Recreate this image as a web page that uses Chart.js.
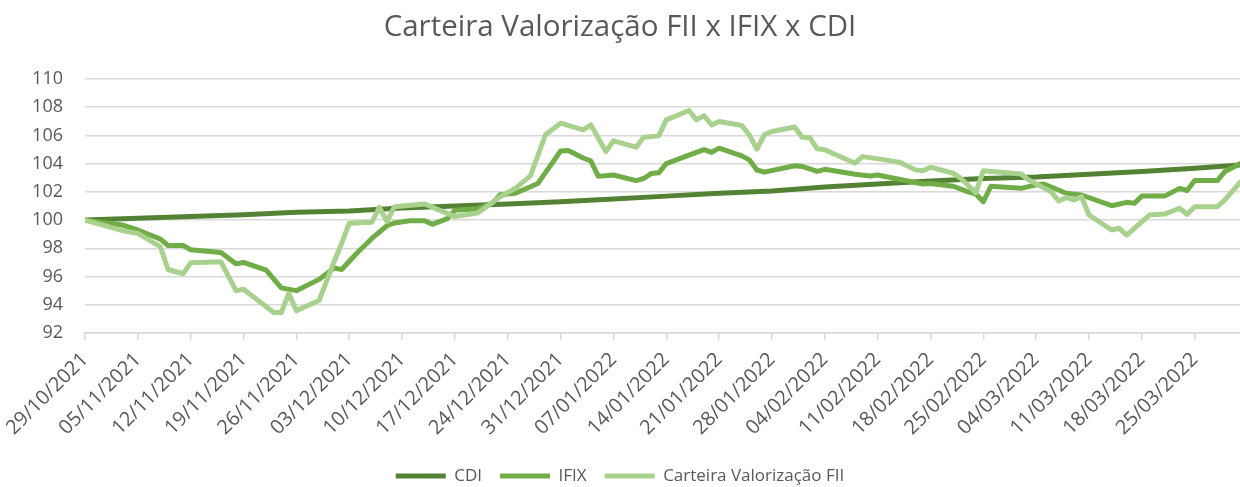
<!DOCTYPE html>
<html>
<head>
<meta charset="utf-8">
<script src="https://cdn.jsdelivr.net/npm/chart.js@4"></script>
<style>
  html, body { margin: 0; padding: 0; background: #fff; }
  #wrap { width: 1240px; height: 487px; }
</style>
</head>
<body>
<div id="wrap"><canvas id="chart" width="1240" height="487"></canvas></div>
<script>
// day offsets counted from 29/10/2021 (day 0)
const startDate = new Date(2021, 9, 29);

const cdiDays = [0, 7, 14, 21, 28, 35, 42, 49, 56, 63, 70, 77, 84, 91, 98, 105, 112, 119, 126, 133, 140, 147, 153];
const cdiValues = [100, 100.13, 100.25, 100.38, 100.55, 100.65, 100.85, 101.0, 101.14, 101.3, 101.5, 101.7,
    101.9, 102.07, 102.35, 102.56, 102.78, 102.95, 103.05, 103.25, 103.45, 103.68, 103.9];

const ifixDays = [0, 5, 7, 10, 11, 13, 14, 18, 20, 21, 24, 26, 28, 31, 33, 34, 36, 38, 40, 41, 43, 45, 46, 48, 49,
    52, 54, 55, 57, 60, 63, 64, 66, 67, 68, 70, 73, 74, 75, 76, 77, 80, 82, 83, 84, 87, 88, 89, 90, 94, 95, 97, 98,
    102, 104, 105, 111, 112, 115, 117, 118, 119, 120, 124, 126, 127, 130, 132, 136, 138, 139, 140, 143, 145, 146,
    147, 150, 151, 153];
const ifixValues = [100, 99.65, 99.3, 98.65, 98.2, 98.2, 97.9, 97.7, 96.9, 97.0, 96.45, 95.2, 95.0, 95.8, 96.6, 96.5,
    97.65, 98.7, 99.6, 99.8, 99.95, 99.95, 99.7, 100.1, 100.7, 100.8, 101.2, 101.8, 101.9, 102.6, 104.9, 104.93,
    104.4, 104.2, 103.1, 103.2, 102.8, 102.95, 103.3, 103.35, 104.0, 104.6, 105.0, 104.8, 105.1, 104.55, 104.27,
    103.55, 103.4, 103.85, 103.8, 103.45, 103.6, 103.25, 103.13, 103.2, 102.56, 102.6, 102.4, 102.0, 101.85, 101.3,
    102.4, 102.25, 102.5, 102.56, 101.9, 101.78, 101.02, 101.26, 101.19, 101.7, 101.7, 102.25, 102.1, 102.8, 102.8,
    103.44, 104.0];

const carteiraDays = [0, 5, 7, 10, 11, 13, 14, 18, 20, 21, 25, 26, 27, 28, 31, 33, 34, 35, 38, 39, 40, 41, 45, 49,
    52, 55, 57, 59, 61, 63, 66, 67, 69, 70, 73, 74, 76, 77, 80, 81, 82, 83, 84, 87, 88, 89, 90, 91, 94, 95, 96, 97,
    98, 102, 103, 106, 108, 110, 111, 112, 115, 116, 118, 119, 124, 125, 128, 129, 130, 131, 132, 133, 136, 137,
    138, 139, 141, 143, 145, 146, 147, 150, 151, 153];
const carteiraValues = [100, 99.25, 99.06, 98.1, 96.5, 96.2, 96.97, 97.05, 95.0, 95.1, 93.45, 93.45, 94.8, 93.57,
    94.3, 97.05, 98.35, 99.77, 99.85, 100.9, 99.9, 100.95, 101.14, 100.25, 100.5, 101.66, 102.25, 103.13, 106.05,
    106.87, 106.4, 106.75, 104.86, 105.62, 105.17, 105.88, 105.97, 107.1, 107.77, 107.1, 107.4, 106.75, 106.99,
    106.7, 106.05, 105.03, 106.05, 106.28, 106.6, 105.88, 105.85, 105.05, 104.98, 104.03, 104.5, 104.27, 104.08,
    103.56, 103.5, 103.75, 103.32, 102.97, 101.95, 103.5, 103.27, 102.85, 102.0, 101.35, 101.6, 101.43, 101.66,
    100.36, 99.3, 99.42, 98.94, 99.42, 100.36, 100.43, 100.84, 100.41, 100.95, 100.95, 101.43, 102.68];

const seriesNames = ['CDI', 'IFIX', 'Carteira Valorização FII'];
const seriesColors = ['#548235', '#70AD47', '#A9D18E'];

function toPoints(days, values) {
    return days.map((d, i) => ({x: d, y: values[i]}));
}

function dayLabel(d) {
    const dt = new Date(startDate.getTime());
    dt.setDate(dt.getDate() + d);
    const dd = String(dt.getDate()).padStart(2, '0');
    const mm = String(dt.getMonth() + 1).padStart(2, '0');
    return dd + '/' + mm + '/' + dt.getFullYear();
}

const gray = '#595959';
const gridColor = '#d9d9d9';
const fontFamily = "'Open Sans', sans-serif";

const data = {
    datasets: [
        {label: seriesNames[0], data: toPoints(cdiDays, cdiValues)},
        {label: seriesNames[1], data: toPoints(ifixDays, ifixValues)},
        {label: seriesNames[2], data: toPoints(carteiraDays, carteiraValues)}
    ].map((ds, i) => Object.assign(ds, {
        borderColor: seriesColors[i],
        backgroundColor: seriesColors[i],
        borderWidth: 5,
        pointRadius: 0,
        tension: 0,
        borderJoinStyle: 'round',
        borderCapStyle: 'round',
        order: 3 - i
    }))
};

const config = {
    type: 'line',
    data: data,
    options: {
        responsive: false,
        animation: false,
        layout: {padding: {top: 0, right: 0, bottom: -7.5, left: 0}},
        plugins: {
            title: {
                display: true,
                text: 'Carteira Valorização FII x IFIX x CDI',
                color: gray,
                font: {family: fontFamily, size: 29.5, weight: 'normal'},
                padding: {top: 10, bottom: 33.6}
            },
            legend: {
                position: 'bottom',
                labels: {
                    color: gray,
                    font: {family: fontFamily, size: 17},
                    usePointStyle: true,
                    pointStyle: 'line',
                    pointStyleWidth: 50,
                    padding: 18,
                    sort: (a, b) => a.datasetIndex - b.datasetIndex
                }
            },
            tooltip: {enabled: false}
        },
        scales: {
            x: {
                type: 'linear',
                min: 0,
                max: 153,
                bounds: 'data',
                ticks: {
                    stepSize: 7,
                    includeBounds: false,
                    autoSkip: false,
                    maxRotation: 45,
                    minRotation: 45,
                    color: gray,
                    font: {family: fontFamily, size: 20},
                    padding: 8,
                    callback: (v) => dayLabel(v)
                },
                grid: {drawOnChartArea: false, drawTicks: true, tickLength: 7, color: gridColor, lineWidth: 1.5},
                border: {color: gridColor, width: 1.5},
                afterBuildTicks: (scale) => {
                    scale.ticks = scale.ticks.filter((t) => t.value % 7 === 0);
                },
                afterFit: (scale) => {
                    scale.height = 116.5;
                    scale.paddingLeft = 0;
                    scale.paddingRight = 0;
                }
            },
            y: {
                min: 92,
                max: 110,
                ticks: {
                    stepSize: 2,
                    color: gray,
                    font: {family: fontFamily, size: 18},
                    padding: 22
                },
                grid: {color: gridColor, lineWidth: 1.5, drawTicks: false},
                border: {display: false},
                afterFit: (scale) => { scale.width = 85; }
            }
        }
    }
};

var ctx = document.getElementById('chart').getContext('2d');
window.valorizacaoChart = new Chart(ctx, config);
</script>
</body>
</html>
